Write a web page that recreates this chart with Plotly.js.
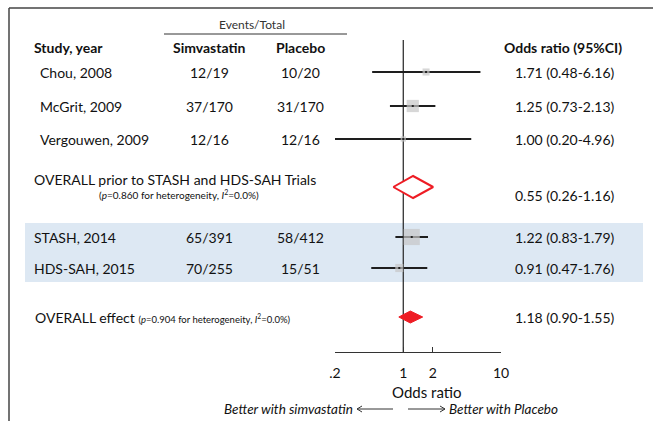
<!DOCTYPE html>
<html><head><meta charset="utf-8">
<script src="https://cdn.plot.ly/plotly-3.0.1.min.js"></script>
<style>html,body{margin:0;padding:0;background:#fff}</style>
</head><body><div id="chart" style="width:653px;height:421px"></div>
<script>
// ---------- data ----------
const studies   = ['Chou, 2008', 'McGrit, 2009', 'Vergouwen, 2009', 'STASH, 2014', 'HDS-SAH, 2015'];
const simvEvents = ['12/19', '37/170', '12/16', '65/391', '70/255'];
const placEvents = ['10/20', '31/170', '12/16', '58/412', '15/51'];
const oddsRatio = [1.71, 1.25, 1.00, 1.22, 0.91];
const ciLow     = [0.48, 0.73, 0.20, 0.83, 0.47];
const ciHigh    = [6.16, 2.13, 4.96, 1.79, 1.76];
const studyWeight = [9, 27, 5, 47, 12];   // relative weights (estimated from square areas)
const orLabels  = ['1.71 (0.48-6.16)', '1.25 (0.73-2.13)', '1.00 (0.20-4.96)', '1.22 (0.83-1.79)', '0.91 (0.47-1.76)'];

const pooledNames  = ['OVERALL prior to STASH and HDS-SAH Trials', 'OVERALL effect'];
const pooledHetero = ['0.860', '0.904'];
const pooledLabels = ['0.55 (0.26-1.16)', '1.18 (0.90-1.55)'];
// diamond extents as drawn in the figure [low, mid, high]
const pooledLow  = [0.79, 0.90];
const pooledMid  = [1.26, 1.18];
const pooledHigh = [2.02, 1.58];

const tickVals   = [0.2, 1, 2, 10];
const tickLabels = ['.2', '1', '2', '10'];

// ---------- layout constants (pixel rows) ----------
const W = 653, H = 421;
const studyRowY = [72, 106, 139, 237, 268];
const studyNameX = [38, 38, 38, 32, 32];
const pooledRowY = [187, 317];
const pooledHalfH = [11, 6];
const axisY = 352;
const nullTop = 40;
const FONT = 'Lato, "Open Sans", sans-serif';
const TXT = '#111';
const px = v => v / W;

// ---------- traces ----------
const traces = [];
traces.push({x: [1, 1], y: [nullTop, axisY], mode: 'lines', line: {color: '#333', width: 1.3},
  hoverinfo: 'skip', showlegend: false});

const ciX = [], ciY = [];
studies.forEach((s, i) => { ciX.push(ciLow[i], ciHigh[i], null); ciY.push(studyRowY[i], studyRowY[i], null); });
traces.push({x: ciX, y: ciY, mode: 'lines', line: {color: '#1e1e1e', width: 1.8},
  hoverinfo: 'skip', showlegend: false, cliponaxis: false});

traces.push({x: oddsRatio, y: studyRowY, mode: 'markers',
  marker: {symbol: 'square', color: '#c6c6c6', size: studyWeight.map(w => 2.35 * Math.sqrt(w)), line: {width: 0}},
  hoverinfo: 'skip', showlegend: false, cliponaxis: false});
traces.push({x: oddsRatio, y: studyRowY, mode: 'markers',
  marker: {symbol: 'square', color: '#222', size: 2, line: {width: 0}},
  hoverinfo: 'skip', showlegend: false, cliponaxis: false});

pooledNames.forEach((n, i) => {
  const yc = pooledRowY[i], h = pooledHalfH[i];
  traces.push({
    x: [pooledLow[i], pooledMid[i], pooledHigh[i], pooledMid[i], pooledLow[i]],
    y: [yc, yc - h, yc, yc + h, yc],
    mode: 'lines', fill: 'toself',
    fillcolor: i === 0 ? '#ffffff' : '#ee1c24',
    line: {color: '#ee1c24', width: i === 0 ? 2 : 1},
    hoverinfo: 'skip', showlegend: false, cliponaxis: false
  });
});

// ---------- annotations ----------
const ann = [];
function txt(x, y, text, o = {}) {
  ann.push(Object.assign({xref: 'paper', yref: 'y', x: px(x), y: y, text: text, showarrow: false,
    xanchor: 'left', yanchor: 'middle', font: {family: FONT, size: 14, color: TXT}}, o));
}
txt(252, 24, 'Events/Total', {xanchor: 'center', font: {family: FONT, size: 12, color: '#333'}});
txt(32, 47, '<b>Study, year</b>');
txt(209, 47, '<b>Simvastatin</b>', {xanchor: 'center'});
txt(300, 47, '<b>Placebo</b>', {xanchor: 'center'});
txt(563, 47, '<b>Odds ratio (95%CI)</b>', {xanchor: 'center'});

studies.forEach((s, i) => {
  txt(studyNameX[i], studyRowY[i], s);
  txt(209, studyRowY[i], simvEvents[i], {xanchor: 'center'});
  txt(300, studyRowY[i], placEvents[i], {xanchor: 'center'});
  txt(513, studyRowY[i], orLabels[i]);
});

txt(32, 179, pooledNames[0]);
txt(179, 194, '(<i>p</i>=' + pooledHetero[0] + ' for heterogeneity, <i>I</i><sup>2</sup>=0.0%)',
  {xanchor: 'center', font: {family: FONT, size: 10, color: TXT}});
txt(513, 195, pooledLabels[0]);

txt(33, 317, pooledNames[1] + ' <span style="font-size:9.5px">(<i>p</i>=' + pooledHetero[1] +
  ' for heterogeneity, <i>I</i><sup>2</sup>=0.0%)</span>');
txt(513, 317, pooledLabels[1]);

txt(426, 392, 'Odds ratio', {xanchor: 'center', font: {family: FONT, size: 15, color: TXT}});
txt(355, 409, '<i>Better with simvastatin</i>', {xanchor: 'right', font: {family: FONT, size: 13.5, color: TXT}});
txt(447, 409, '<i>Better with Placebo</i>', {font: {family: FONT, size: 13.5, color: TXT}});

// ---------- shapes ----------
const ln = (x0, y0, x1, y1, color, width) => ({type: 'line', xref: 'paper', yref: 'y',
  x0: px(x0), x1: px(x1), y0: y0, y1: y1, line: {color: color, width: width}});
const shapes = [
  {type: 'rect', xref: 'paper', yref: 'y', x0: px(25), x1: px(643), y0: 223, y1: 282,
    fillcolor: '#dde8f3', line: {width: 0}, layer: 'below'},
  {type: 'line', xref: 'paper', yref: 'y', x0: px(9), x1: 1, y0: 8, y1: 8, line: {color: '#444', width: 1.5}},
  ln(9, 8, 9, 421, '#444', 1.5),
  ln(164, 34, 347, 34, '#333', 1),
  // direction arrows
  ln(357, 409, 393, 409, '#333', 1),
  ln(357, 409, 362, 406, '#333', 1),
  ln(357, 409, 362, 412, '#333', 1),
  ln(408, 409, 445, 409, '#333', 1),
  ln(445, 409, 440, 406, '#333', 1),
  ln(445, 409, 440, 412, '#333', 1)
];

const layout = {
  width: W, height: H, margin: {l: 0, r: 0, t: 0, b: 0},
  paper_bgcolor: '#fff', plot_bgcolor: 'rgba(0,0,0,0)',
  showlegend: false,
  xaxis: {type: 'log', domain: [px(335), px(501)], range: [Math.log10(0.2), 1],
    anchor: 'free', position: (H - axisY) / H,
    showline: true, linecolor: '#333', linewidth: 1.3,
    ticks: 'inside', ticklen: 5, tickwidth: 1.3, tickcolor: '#333',
    tickvals: tickVals, ticktext: tickLabels, ticklabelstandoff: 8,
    tickfont: {family: FONT, size: 14, color: TXT},
    showgrid: false, zeroline: false, fixedrange: true},
  yaxis: {range: [H, 0], domain: [0, 1], visible: false, showgrid: false, zeroline: false, fixedrange: true},
  shapes: shapes, annotations: ann
};

Plotly.newPlot('chart', traces, layout, {displayModeBar: false, staticPlot: true});
</script>
</body></html>
